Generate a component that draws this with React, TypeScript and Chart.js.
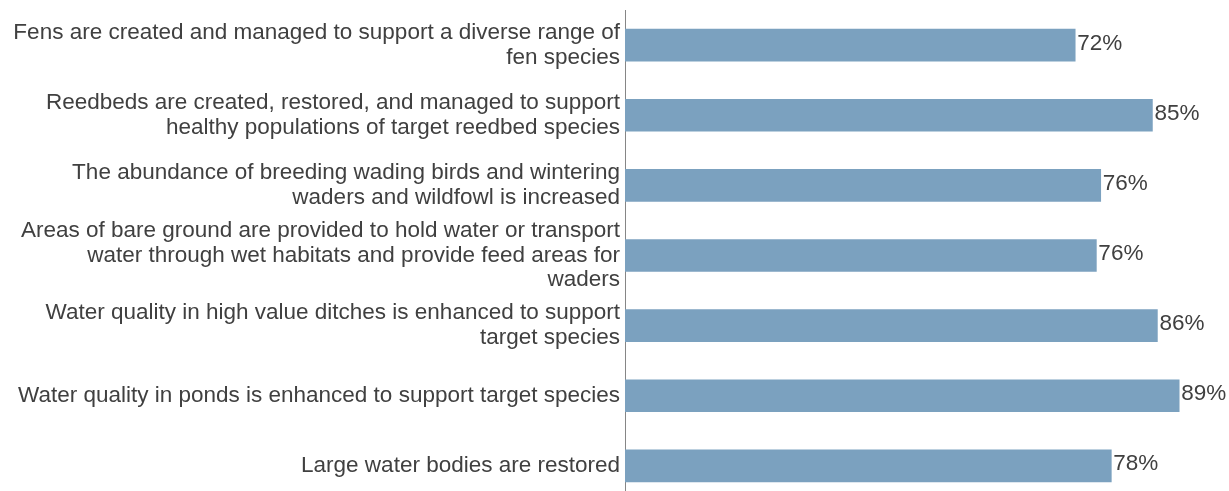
import React, { useEffect, useRef } from "react";
import { Chart, registerables } from "chart.js";

Chart.register(...registerables);

const categories: string[][] = [
  ["Fens are created and managed to support a diverse range of", "fen species"],
  ["Reedbeds are created, restored, and managed to support", "healthy populations of target reedbed species"],
  ["The abundance of breeding wading birds and wintering", "waders and wildfowl is increased"],
  ["Areas of bare ground are provided to hold water or transport", "water through wet habitats and provide feed areas for", "waders"],
  ["Water quality in high value ditches is enhanced to support", "target species"],
  ["Water quality in ponds is enhanced to support target species"],
  ["Large water bodies are restored"],
];

const values: number[] = [72.3, 84.7, 76.4, 75.7, 85.5, 89.0, 78.1];

const FONT = '"Liberation Sans", Arial, sans-serif';
const TEXT_COLOR = "#404040";
const BAR_COLOR = "#7BA1BF";

const valueLabels = {
  id: "valueLabels",
  afterDatasetsDraw(chart: any) {
    const ctx = chart.ctx;
    const meta = chart.getDatasetMeta(0);
    ctx.save();
    ctx.font = `22.5px ${FONT}`;
    ctx.fillStyle = TEXT_COLOR;
    ctx.textAlign = "left";
    ctx.textBaseline = "alphabetic";
    meta.data.forEach((bar: any, i: number) => {
      ctx.fillText(`${Math.round(values[i])}%`, bar.x + 2, bar.y + 4.5);
    });
    ctx.restore();
  },
};

export default function App() {
  const ref = useRef<HTMLCanvasElement | null>(null);
  useEffect(() => {
    if (!ref.current) return;
    const chart = new Chart(ref.current, {
      type: "bar",
      data: {
        labels: categories,
        datasets: [
          {
            data: values,
            backgroundColor: BAR_COLOR,
            borderWidth: 0,
            barThickness: 32,
          },
        ],
      },
      options: {
        indexAxis: "y",
        animation: false,
        responsive: false,
        devicePixelRatio: 1,
        layout: { padding: { top: 10, right: 0, bottom: 0, left: 0 } },
        plugins: { legend: { display: false }, tooltip: { enabled: false } },
        scales: {
          x: { min: 0, max: 97, display: false },
          y: {
            grid: { display: false, drawTicks: false },
            border: { display: true, color: "#868686", width: 1 },
            ticks: {
              autoSkip: false,
              padding: 5,
              color: TEXT_COLOR,
              font: { family: FONT, size: 22.5, lineHeight: 1.1 },
            },
            afterFit: (scale: any) => {
              scale.width = 625;
              scale.paddingTop = 0;
              scale.paddingBottom = 0;
            },
          },
        },
      },
      plugins: [valueLabels],
    });
    return () => chart.destroy();
  }, []);
  return (
    <div style={{ position: "fixed", left: 0, top: 0, width: 1229, height: 491, overflow: "hidden", background: "#fff" }}>
      <canvas ref={ref} width={1229} height={501} style={{ display: "block" }} />
    </div>
  );
}
